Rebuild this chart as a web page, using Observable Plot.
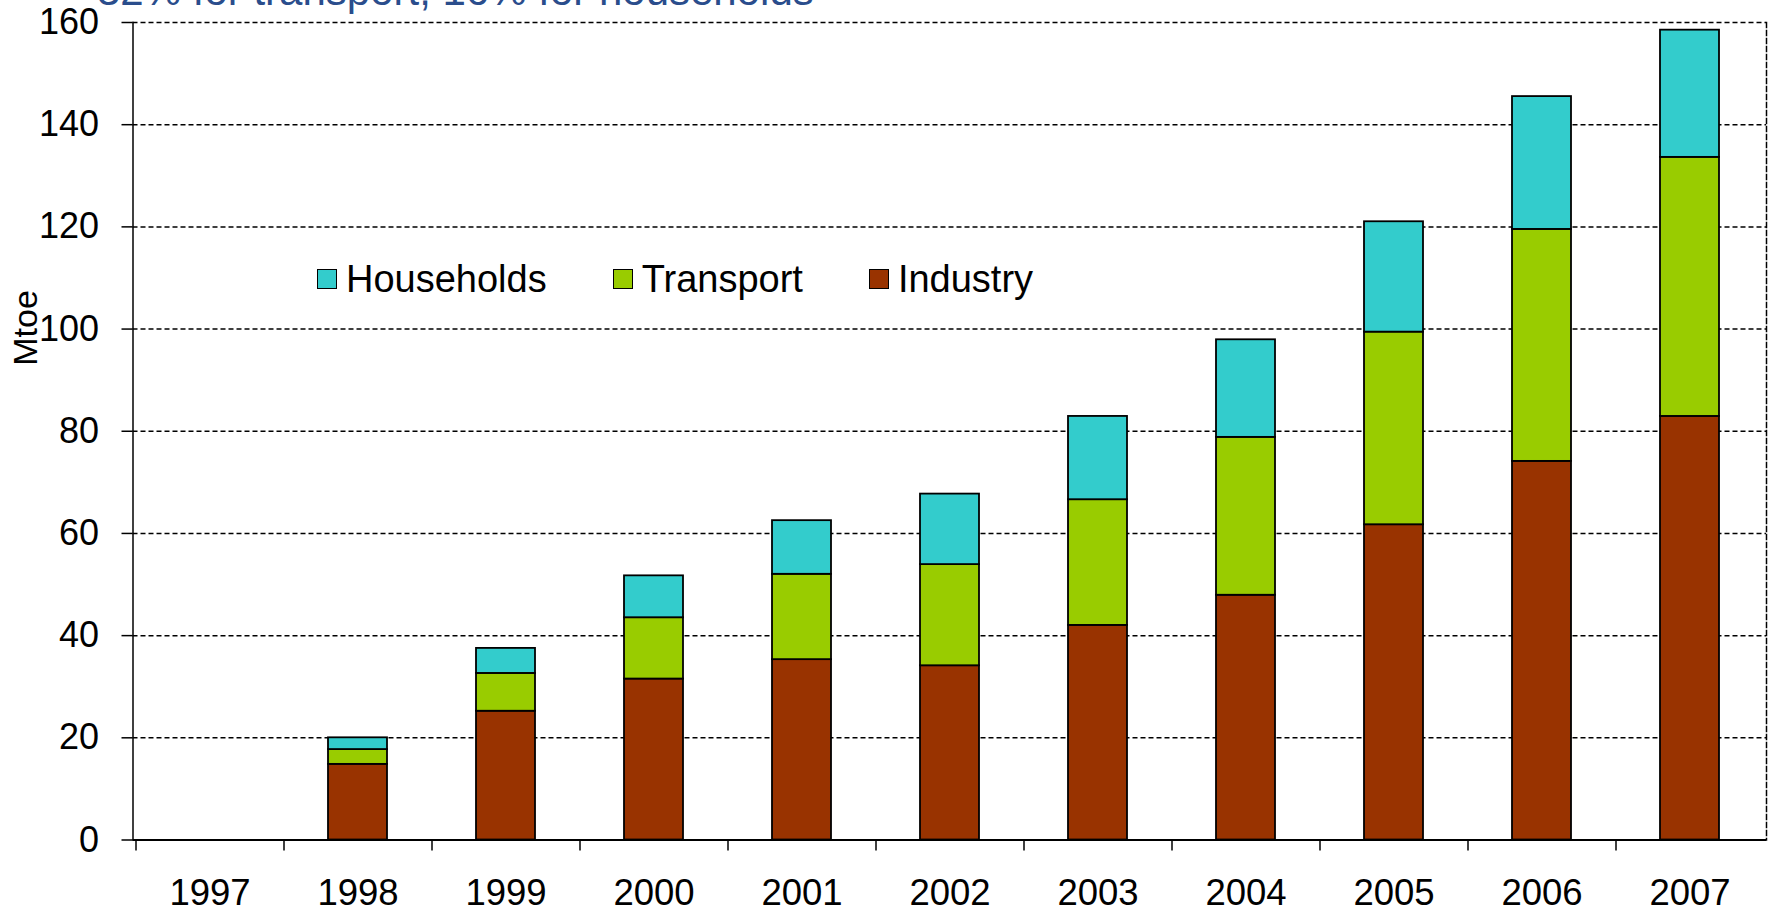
<!DOCTYPE html>
<html><head><meta charset="utf-8">
<script src="https://cdn.jsdelivr.net/npm/d3@7"></script>
<script src="https://cdn.jsdelivr.net/npm/@observablehq/plot@0.6"></script>
<style>
html,body{margin:0;padding:0;background:#fff;}
#wrap{position:relative;width:1771px;height:912px;overflow:hidden;font-family:"Liberation Sans",Arial,sans-serif;color:#000;}
#wrap svg{position:absolute;left:0;top:0;}
#title{position:absolute;left:97px;top:-30.5px;font-size:42px;line-height:42px;color:#2a4d8c;white-space:nowrap;}
#ylabel{position:absolute;left:25px;top:328px;transform:translate(-50%,-50%) rotate(-90deg);font-size:34px;line-height:34px;white-space:nowrap;}
#legend{position:absolute;left:317px;top:260px;display:flex;align-items:center;font-size:38px;line-height:38px;}
.item{display:flex;align-items:center;margin-right:66px;}
.sw{width:20px;height:20px;box-sizing:border-box;border:1.5px solid #000;margin-right:9px;}
</style></head><body><div id="wrap"></div>
<script>
const years = ["1997","1998","1999","2000","2001","2002","2003","2004","2005","2006","2007"];
const industry   = [null, 14.8, 25.2, 31.5, 35.3, 34.1, 42.0, 47.9, 61.7, 74.1, 82.9];
const transport  = [null,  2.9,  7.4, 12.0, 16.7, 19.8, 24.6, 30.9, 37.7, 45.4, 50.7];
const households = [null,  2.3,  4.9,  8.2, 10.5, 13.8, 16.3, 19.1, 21.6, 26.0, 24.9];
const series = ["Industry", "Transport", "Households"];
const colors = ["#993300", "#99CC00", "#33CCCC"];
const yTicks = [0, 20, 40, 60, 80, 100, 120, 140, 160];
const titleText = "32% for transport, 16% for households";
const yLabel = "Mtoe";

const values = [industry, transport, households];
const data = years.flatMap((year, i) => series.map((s, j) => ({year, series: s, value: values[j][i]})))
  .filter(d => d.value != null);

const chart = Plot.plot({
  width: 1771, height: 912,
  marginLeft: 132.5, marginRight: 5, marginTop: 22, marginBottom: 72.5,
  style: {fontFamily: '"Liberation Sans", Arial, sans-serif', color: "#000", background: "#fff", overflow: "visible"},
  x: {type: "band", domain: years, paddingInner: 0.6, paddingOuter: 0.3, label: null},
  y: {domain: [0, 160], label: null},
  color: {domain: series, range: colors},
  marks: [
    Plot.gridY(yTicks.filter(d => d > 0), {stroke: "#000", strokeOpacity: 1, strokeWidth: 1.5, strokeDasharray: "5,3"}),
    Plot.frame({anchor: "right", stroke: "#000", strokeWidth: 1.5, strokeDasharray: "5,3"}),
    Plot.barY(data, {x: "year", y: "value", fill: "series", order: series, stroke: "#000", strokeWidth: 1.8}),
    Plot.frame({anchor: "left", stroke: "#000", strokeWidth: 1.5}),
    Plot.ruleY([0], {stroke: "#000", strokeWidth: 2.2}),
    Plot.axisY(yTicks, {tickSize: 11, tickPadding: 23, fontSize: 36, strokeWidth: 1.5, label: null}),
    Plot.axisX({tickSize: 11, tickPadding: 28, fontSize: 36.5, strokeWidth: 1.5, label: null})
  ]
});

const xs = chart.scale("x");
d3.select(chart).selectAll('g[aria-label="x-axis tick"]').each(function() {
  const t = this.getAttribute("transform") || "";
  this.setAttribute("transform", `translate(${-xs.step / 2},0) ${t}`);
});

const wrap = document.getElementById("wrap");
wrap.appendChild(chart);

const title = document.createElement("div");
title.id = "title"; title.textContent = titleText;
wrap.appendChild(title);

const yl = document.createElement("div");
yl.id = "ylabel"; yl.textContent = yLabel;
wrap.appendChild(yl);

const legend = document.createElement("div");
legend.id = "legend";
for (let j = series.length - 1; j >= 0; j--) {
  const item = document.createElement("div"); item.className = "item";
  const sw = document.createElement("div"); sw.className = "sw"; sw.style.background = colors[j];
  const tx = document.createElement("span"); tx.textContent = series[j];
  item.appendChild(sw); item.appendChild(tx); legend.appendChild(item);
}
wrap.appendChild(legend);
</script></body></html>
